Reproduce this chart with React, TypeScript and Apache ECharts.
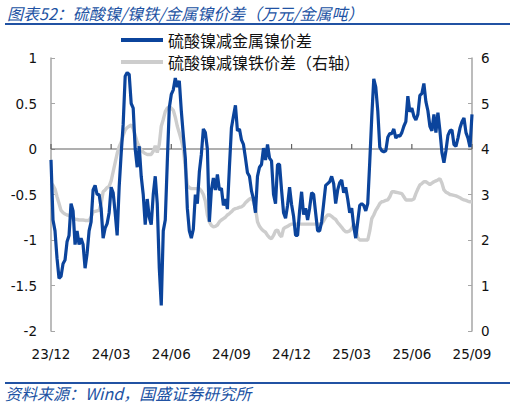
import React, { useEffect, useRef } from "react";
import * as echarts from "echarts";

const quarterLabels = ["23/12", "24/03", "24/06", "24/09", "24/12", "25/03", "25/06", "25/09"];
const pointsPerQuarter = 30;

// 硫酸镍减金属镍价差 (left axis, 万元/金属吨)
const sulfateMinusMetal = [
  -0.12, -0.78, -0.9, -1.2, -1.42, -1.4, -1.26, -1.22, -1.02, -0.95,
  -0.6, -0.68, -1.05, -0.9, -1.05, -0.98, -1.05, -1.31, -1.15, -0.9,
  -0.8, -0.45, -0.4, -0.5, -0.5, -0.65, -0.98, -0.87, -0.82, -0.7,
  -0.42, -0.48, -0.7, -0.95, -0.42, -0.05, 0.27, 0.8, 0.84, 0.82,
  0.5, 0.45, 0.0, -0.2, 0.03, -0.3, -0.5, -0.83, -0.55, -0.75,
  -0.83, -0.5, -0.3, -0.6, -1.3, -1.72, -0.9, -0.78, -0.15, 0.45,
  0.6, 0.65, 0.78, 0.68, 0.75, 0.42, 0.15, -0.1, -0.65, -0.9,
  -0.98, -0.88, -0.5, -0.6, -0.25, -0.06, 0.22, 0.18, 0.0, -0.8,
  -0.45, -0.32, -0.45, -0.28, -0.45, -0.43, -0.62, -0.55, -0.66, -0.2,
  0.23, 0.36, 0.48, 0.2, 0.22, 0.1, 0.05, -0.1, -0.26, -0.3,
  -0.46, -0.55, -0.7, -0.3, -0.2, -0.17, 0.01, -0.12, 0.05, -0.1,
  -0.13, -0.5, -0.6, -0.17, -0.17, -0.45, -0.7, -0.76, -0.62, -0.42,
  -0.61, -0.74, -0.95, -0.95, -0.68, -0.47, -0.72, -0.65, -0.78, -0.65,
  -0.48, -0.5, -0.7, -0.9, -0.9, -0.8, -0.6, -0.4, -0.38, -0.36,
  -0.3, -0.38, -0.6, -0.45, -0.37, -0.34, -0.48, -0.42, -0.55, -0.7,
  -0.65, -0.85, -0.98, -0.8, -0.62, -0.6, -0.62, -0.68, -0.6, -0.14,
  0.35, 0.77, 0.68, 0.42, 0.02, -0.02, -0.03, -0.02, 0.13, 0.17,
  0.17, 0.22, 0.12, 0.15, 0.14, 0.18, 0.25, 0.3, 0.58, 0.41,
  0.45, 0.36, 0.32, 0.38, 0.59, 0.61, 0.72, 0.52, 0.42, 0.25,
  0.2, 0.38, 0.18, 0.4, 0.2, -0.04, -0.15, -0.02, 0.15, 0.2,
  0.21, 0.05, 0.03, 0.12, 0.23, 0.3, 0.34, 0.18, 0.12, 0.02,
  0.38,
];

// 硫酸镍减镍铁价差 (right axis)
const sulfateMinusFerro = [
  3.25, 3.2, 3.12, 2.95, 2.8, 2.65, 2.6, 2.57, 2.55, 2.54,
  2.5, 2.48, 2.46, 2.45, 2.44, 2.44, 2.44, 2.43, 2.43, 2.43,
  2.5, 2.62, 2.63, 2.64, 2.65, 2.8, 3.06, 3.1, 3.15, 3.18,
  3.3, 3.5, 3.7, 3.9, 4.05, 4.15, 4.3, 4.42, 4.47, 4.5,
  4.53, 4.45, 4.3, 4.15, 4.05, 3.98, 3.93, 3.9, 3.88, 3.88,
  3.88, 3.95, 4.07, 3.92, 4.1, 4.5, 4.65, 4.82, 4.9, 4.93,
  4.9, 4.85, 4.7, 4.5, 4.35, 4.2, 4.01, 3.6, 3.2, 3.15,
  3.13, 3.13, 3.13, 3.13, 3.13, 3.08, 3.0, 2.85, 2.55, 2.4,
  2.32, 2.29, 2.3, 2.33, 2.4, 2.44, 2.47, 2.5, 2.55, 2.58,
  2.62, 2.67, 2.69, 2.7, 2.72, 2.73, 2.76, 2.82, 2.86, 2.9,
  2.92, 2.85, 2.7, 2.4, 2.3, 2.24, 2.2, 2.17, 2.1, 2.05,
  2.03, 2.1, 2.2, 2.22, 2.12, 2.07, 2.25, 2.28, 2.3, 2.33,
  2.35, 2.35, 2.35, 2.35, 2.35, 2.35, 2.35, 2.35, 2.35, 2.35,
  2.35, 2.35, 2.35, 2.35, 2.35, 2.35, 2.42, 2.5, 2.55, 2.55,
  2.52, 2.48, 2.45, 2.38, 2.33, 2.28, 2.22, 2.18, 2.18, 2.2,
  2.25, 2.35, 2.3, 2.05, 2.0, 2.0, 2.0, 2.0, 2.0, 2.2,
  2.47, 2.55, 2.65, 2.72, 2.8, 2.84, 2.85, 2.87, 2.88, 2.95,
  3.06, 3.06, 3.05, 3.04, 3.03, 3.02, 2.95, 2.88, 2.88, 2.88,
  2.88, 2.9, 3.02, 3.12, 3.21, 3.24, 3.28, 3.28, 3.25, 3.22,
  3.25, 3.28, 3.3, 3.32, 3.35, 3.25, 3.1, 3.05, 3.03, 3.0,
  2.99, 2.98, 2.97, 2.95, 2.93, 2.9, 2.88, 2.87, 2.85, 2.84,
  2.84,
];

const leftTicks = { min: -2, max: 1, interval: 0.5 };
const rightTicks = { min: 0, max: 6, interval: 1 };

const seriesNames = ["硫酸镍减金属镍价差", "硫酸镍减镍铁价差（右轴）"];
const titleText = "图表52：硫酸镍/镍铁/金属镍价差（万元/金属吨）";
const sourceText = "资料来源：Wind，国盛证券研究所";

const categories: string[] = sulfateMinusMetal.map((_, i) => {
  const q = Math.floor(i / pointsPerQuarter);
  const r = i % pointsPerQuarter;
  return r === 0 ? quarterLabels[q] : `${quarterLabels[q]}+${r}`;
});
// zero reference line of the left axis, and quarter ticks on it
const zeroLine = categories.map(() => 0);
const quarterTickData = quarterLabels.map((_, q) => [q * pointsPerQuarter, 0]);

const BLUE = "#0B449C";
const GRAY = "#CDCDCD";
const ZERO = "#606060";
const TITLE_BLUE = "#2152A3";
const CJK = "'Noto Sans CJK SC', 'Noto Sans', sans-serif";
const NUM = "'DejaVu Sans', Verdana, sans-serif";

export default function App() {
  const ref = useRef<HTMLDivElement>(null);
  useEffect(() => {
    if (!ref.current) return;
    const chart = echarts.init(ref.current, null, { renderer: "svg" });
    chart.setOption({
      animation: false,
      backgroundColor: "#ffffff",
      title: {
        text: titleText,
        left: 2,
        top: 0,
        textStyle: {
          fontFamily: CJK,
          fontSize: 16,
          fontStyle: "italic",
          fontWeight: "normal",
          color: TITLE_BLUE,
        },
      },
      graphic: [
        { type: "rect", left: 5, top: 23, z: 10, shape: { width: 505, height: 2 }, style: { fill: TITLE_BLUE } },
        { type: "rect", left: 5, top: 382, z: 10, shape: { width: 505, height: 2 }, style: { fill: TITLE_BLUE } },
        {
          type: "text",
          left: 5,
          top: 385,
          style: {
            text: sourceText,
            font: `italic 16px ${CJK}`,
            fill: TITLE_BLUE,
          },
        },
      ],
      legend: {
        orient: "vertical",
        left: 116,
        top: 27,
        icon: "rect",
        itemWidth: 42,
        itemHeight: 4,
        itemGap: 6,
        data: seriesNames,
        textStyle: { fontFamily: CJK, fontSize: 16, color: "#111", lineHeight: 16 },
      },
      grid: { left: 51, right: 43, top: 58, bottom: 77, containLabel: false, outerBoundsMode: "none" },
      xAxis: {
        type: "category",
        data: categories,
        boundaryGap: false,
        position: "bottom",
        axisLine: { show: false, onZero: false },
        axisTick: { show: false },
        axisLabel: {
          interval: pointsPerQuarter - 1,
          margin: 16,
          fontFamily: NUM,
          fontSize: 13.5,
          color: "#111",
        },
        splitLine: { show: false },
      },
      yAxis: [
        {
          type: "value",
          min: leftTicks.min,
          max: leftTicks.max,
          interval: leftTicks.interval,
          axisLine: { show: true, lineStyle: { color: "#A6A6A6", width: 1.5 } },
          axisTick: { show: true, inside: true, length: 4, lineStyle: { color: "#A6A6A6" } },
          axisLabel: { margin: 14, fontFamily: NUM, fontSize: 13.5, color: "#111" },
          splitLine: { show: false },
        },
        {
          type: "value",
          min: rightTicks.min,
          max: rightTicks.max,
          interval: rightTicks.interval,
          position: "right",
          axisLine: { show: true, lineStyle: { color: "#A6A6A6", width: 1.5 } },
          axisTick: { show: true, inside: true, length: 4, lineStyle: { color: "#A6A6A6" } },
          axisLabel: { margin: 9, fontFamily: NUM, fontSize: 13.5, color: "#111" },
          splitLine: { show: false },
        },
      ],
      series: [
        {
          name: "zeroLine",
          type: "line",
          yAxisIndex: 0,
          data: zeroLine,
          showSymbol: false,
          symbol: "none",
          silent: true,
          lineStyle: { color: ZERO, width: 1.2 },
          itemStyle: { color: ZERO },
          z: 1,
        },
        {
          name: "quarterTicks",
          type: "custom",
          yAxisIndex: 0,
          silent: true,
          z: 1,
          data: quarterTickData,
          renderItem: (_params: any, api: any) => {
            const p = api.coord([api.value(0), api.value(1)]);
            return {
              type: "rect",
              shape: { x: p[0] - 0.6, y: p[1] - 5, width: 1.2, height: 5 },
              style: { fill: ZERO },
            };
          },
        },
        {
          name: seriesNames[0],
          type: "line",
          yAxisIndex: 0,
          data: sulfateMinusMetal,
          showSymbol: false,
          symbol: "none",
          lineStyle: { color: BLUE, width: 3.2 },
          itemStyle: { color: BLUE },
          z: 3,
        },
        {
          name: seriesNames[1],
          type: "line",
          yAxisIndex: 1,
          data: sulfateMinusFerro,
          showSymbol: false,
          symbol: "none",
          lineStyle: { color: GRAY, width: 3.4 },
          itemStyle: { color: GRAY },
          z: 2,
        },
      ],
    });
    return () => chart.dispose();
  }, []);
  return (
    <div
      ref={ref}
      style={{ position: "fixed", left: 0, top: 0, width: 515, height: 408, background: "#fff" }}
    />
  );
}
